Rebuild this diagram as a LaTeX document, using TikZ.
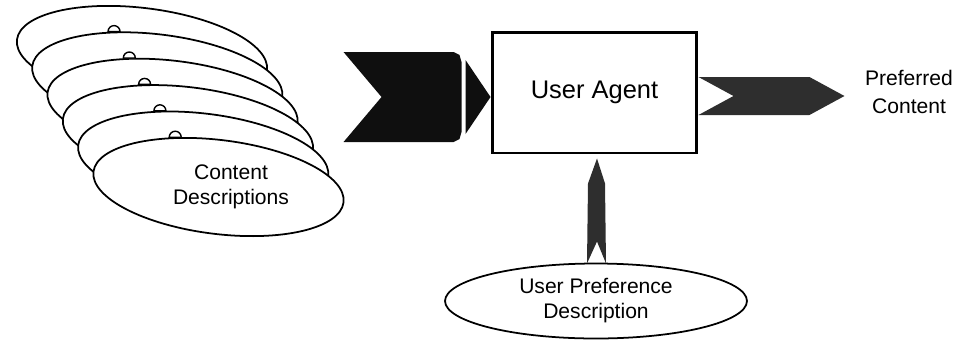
\documentclass[tikz,border=0pt]{standalone}
\usepackage{fontspec}
\setmainfont{Liberation Sans}
\usetikzlibrary{shapes.geometric,calc}
\tikzset{
 desc/.style={ellipse,draw,fill=white,line width=1pt,inner sep=0pt,
  minimum width=5.04cm,minimum height=1.88cm,rotate=-7},
 bump/.style={semicircle,draw,fill=white,line width=.8pt,inner sep=0pt,
  outer sep=0pt,minimum width=.24cm,minimum height=.12cm,anchor=chord center},
 txt/.style={align=center,font=\fontsize{12}{14.2}\selectfont},
 blk/.style={fill=black!82}
}
\begin{document}
\begin{tikzpicture}[x=.02cm,y=-.02cm]
\useasboundingbox (0,0) rectangle (957,339);
% content descriptions, back to front
\path (142,55) node[name=cd1,desc] {};
\path (142+15.3,55+26.4) node[name=cd2,desc] {};
\path (cd2.138) node[bump] {};
\path (142+2*15.3,55+2*26.4) node[name=cd3,desc] {};
\path (cd3.138) node[bump] {};
\path (142+3*15.3,55+3*26.4) node[name=cd4,desc] {};
\path (cd4.138) node[bump] {};
\path (142+4*15.3,55+4*26.4) node[name=cd5,desc] {};
\path (cd5.138) node[bump] {};
\path (142+5*15.3,55+5*26.4) node[name=cd6,desc] {};
\path (cd6.138) node[bump] {};
\path (231,187) node[name=cdtext,txt] {Content\\Descriptions};

\path (594.5,92.5) node[name=agent,draw,line width=1.7pt,minimum width=4.1cm,
  minimum height=2.42cm,font=\fontsize{14.5}{17}\selectfont] {User Agent};
\path (909,92) node[name=pref,txt,font=\fontsize{12}{16}\selectfont] {Preferred\\Content};
\path (596,301) node[name=upd,ellipse,draw,fill=white,line width=1pt,inner sep=0pt,
  minimum width=6.04cm,minimum height=1.5cm,txt] {User Preference\\Description};

% descriptions -> agent
\fill[fill=black!94,shift={(agent.west)}] (-147,-40.5) -- (-37,-40.5) -- (-31,-37.5)
  -- (-29,-30.5) -- (-29,39.5) -- (-31,46.5) -- (-37,49.5) -- (-147,49.5) -- (-109,4.5) -- cycle;
\fill[fill=black!94,shift={(agent.west)}] (-25,-32.5) -- (0,4.5) -- (-25,41.5) -- cycle;
% agent -> preferred content
\fill[blk,shift={(agent.east)}] (0,-15.5) -- (111,-15.5) -- (146,3.5) -- (111,22.5)
  -- (0,22.5) -- (35,3.5) -- cycle;
% preference -> agent
\fill[blk,shift={(agent.south)}] (2.5,4) -- (10.5,29) -- (11.5,109) -- (2.5,87)
  -- (-7.5,109) -- (-6.5,29) -- cycle;
\end{tikzpicture}
\end{document}
